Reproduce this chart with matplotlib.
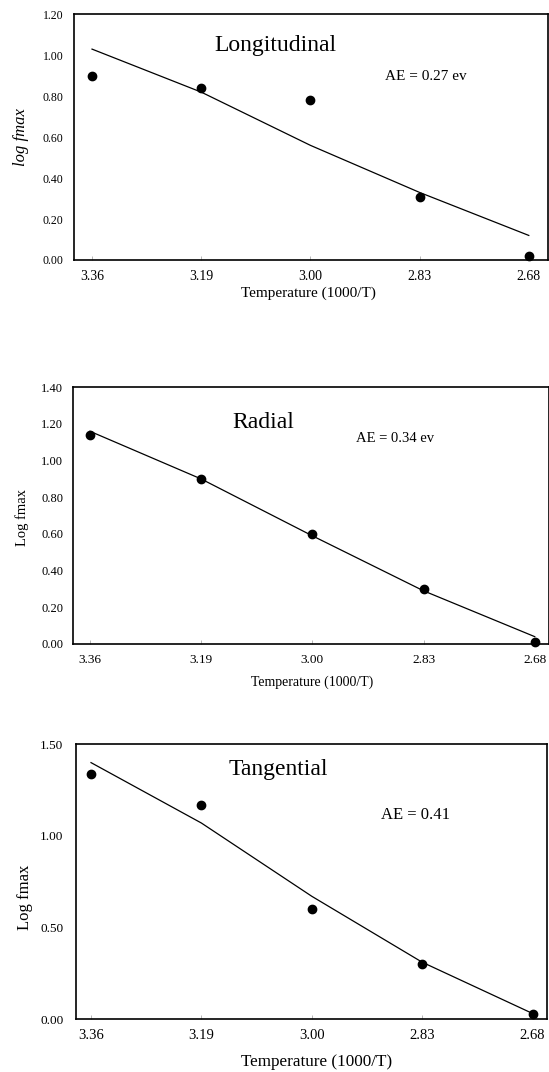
import numpy as np
import matplotlib
matplotlib.use("Agg")
import matplotlib.pyplot as plt

plt.rcParams['font.family'] = ['Liberation Serif', 'DejaVu Serif']

# tick labels along x (equally spaced categories)
temp_labels = ['3.36', '3.19', '3.00', '2.83', '2.68']

# Longitudinal
long_pts = [0.90, 0.84, 0.78, 0.31, 0.02]
long_fit = [1.03, 0.82, 0.56, 0.33, 0.12]
# Radial
rad_pts = [1.14, 0.90, 0.60, 0.30, 0.01]
rad_fit = [1.16, 0.90, 0.59, 0.29, 0.04]
# Tangential
tan_pts = [1.34, 1.17, 0.60, 0.30, 0.03]
tan_fit = [1.40, 1.07, 0.67, 0.31, 0.03]

W, H = 549, 1072
fig = plt.figure(figsize=(W / 100, H / 100), dpi=100)


def px_rect(l, r, t, b):
    return [l / W, 1 - b / H, (r - l) / W, (b - t) / H]


def ftext(x, y, s, **kw):
    fig.text(x / W, 1 - y / H, s, **kw)


panels = [
    dict(rect=px_rect(74, 548, 14.3, 260), xlim=(-0.165, 4.176), ylim=(0, 1.2),
         yticks=np.arange(0, 1.21, 0.2), pts=long_pts, fit=long_fit,
         yfs=8.5, xfs=10, ypad=7.5, xpad=7),
    dict(rect=px_rect(73, 549, 387.3, 644), xlim=(-0.153, 4.128), ylim=(0, 1.4),
         yticks=np.arange(0, 1.41, 0.2), pts=rad_pts, fit=rad_fit,
         yfs=9, xfs=9.5, ypad=7, xpad=7),
    dict(rect=px_rect(76, 547.3, 744.3, 1019), xlim=(-0.136, 4.133), ylim=(0, 1.5),
         yticks=np.arange(0, 1.51, 0.5), pts=tan_pts, fit=tan_fit,
         yfs=9.5, xfs=10.5, ypad=9, xpad=7),
]

x = np.arange(len(temp_labels))
for p in panels:
    ax = fig.add_axes(p['rect'])
    ax.plot(x, p['fit'], color='black', lw=0.9, clip_on=False)
    ax.plot(x, p['pts'], 'o', color='black', ms=6, clip_on=False)
    ax.set_xlim(*p['xlim'])
    ax.set_ylim(*p['ylim'])
    ax.set_xticks(x)
    ax.set_xticklabels(temp_labels, fontsize=p['xfs'])
    ax.set_yticks(p['yticks'])
    ax.set_yticklabels(['%.2f' % v for v in p['yticks']], fontsize=p['yfs'])
    ax.tick_params(axis='x', direction='in', length=3, width=0.5, colors='#999999',
                   labelcolor='black', pad=p['xpad'])
    ax.tick_params(axis='y', length=0, pad=p['ypad'])
    for s in ax.spines.values():
        s.set_linewidth(1.2)
        s.set_color('black')

# panel titles and activation energies
ftext(275, 46, 'Longitudinal', fontsize=17, ha='center', va='center')
ftext(385, 77, 'AE = 0.27 ev', fontsize=11, ha='left', va='center')
ftext(263, 422, 'Radial', fontsize=17, ha='center', va='center')
ftext(356, 439, 'AE = 0.34 ev', fontsize=10.5, ha='left', va='center')
ftext(278, 769, 'Tangential', fontsize=17, ha='center', va='center')
ftext(381, 815, 'AE = 0.41', fontsize=12, ha='left', va='center')

# axis labels
ftext(308, 293, 'Temperature (1000/T)', fontsize=11, ha='center', va='center')
ftext(312, 682, 'Temperature (1000/T)', fontsize=10, ha='center', va='center')
ftext(317, 1062, 'Temperature (1000/T)', fontsize=12.3, ha='center', va='center')
ftext(21, 137, 'log fmax', fontsize=12, rotation=90, ha='center', va='center',
      style='italic')
ftext(22, 517, 'Log fmax', fontsize=10.5, rotation=90, ha='center', va='center')
ftext(25, 897, 'Log fmax', fontsize=12, rotation=90, ha='center', va='center')

fig.savefig('out.png', dpi=100)
